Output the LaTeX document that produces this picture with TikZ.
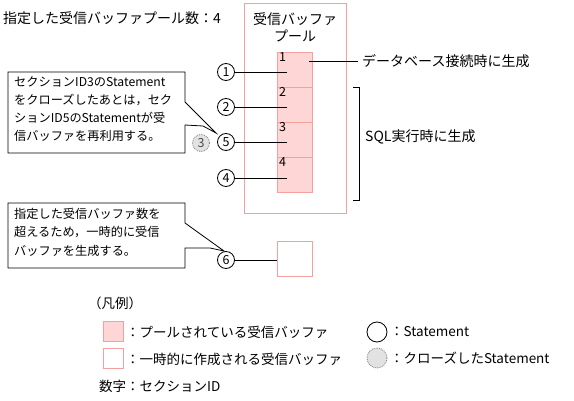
\documentclass[tikz,border=0pt]{standalone}
\usepackage{fontspec}
\newfontfamily\jp{Noto Sans CJK JP}
\definecolor{pinkline}{HTML}{F4A0A0}
\definecolor{pinkfill}{HTML}{FFD6D6}
\definecolor{greyfill}{HTML}{E2E2E2}
\newcommand{\lblfont}{\jp\fontsize{14}{17}\selectfont}
\newcommand{\legfont}{\jp\fontsize{13.5}{17}\selectfont}
\newcommand{\callfont}{\jp\fontsize{12.2}{18.3}\selectfont}
\newcommand{\numfont}{\jp\fontsize{12.5}{12}\selectfont}
\tikzset{
  poolbox/.style={draw=pinkline, line width=1pt, minimum width=102, minimum height=210, inner sep=0, anchor=north west},
  cellbox/.style={draw=pinkline, fill=pinkfill, line width=1pt, minimum width=35, minimum height=35, inner sep=0, anchor=north west},
  tempbox/.style={draw=pinkline, fill=white, line width=1pt, minimum width=35, minimum height=35, inner sep=0, anchor=north west},
  legbox/.style={draw=pinkline, line width=1pt, minimum width=20, minimum height=20, inner sep=0},
  stmt/.style={circle, draw, line width=0.8pt, minimum size=17, inner sep=0, font=\numfont},
  closed/.style={stmt, draw=gray, densely dotted, fill=greyfill, text=black!70},
  lbl/.style={anchor=west, inner sep=0, font=\lblfont},
  leg/.style={anchor=west, inner sep=0, font=\legfont},
  cellnum/.style={anchor=north west, inner sep=0, font=\numfont},
  calltext/.style={anchor=north west, inner sep=0, align=left, font=\callfont},
  callout/.style={draw, fill=white, line width=0.8pt},
  conn/.style={draw, line width=0.8pt},
}
\begin{document}
\begin{tikzpicture}[x=1pt,y=-1pt]
\useasboundingbox (0,0) rectangle (574,401);

% title
\node[lbl] (title) at (3,18) {指定した受信バッファプール数：4};

% pool
\node[poolbox] (pool) at (244,3) {};
\node[align=center, inner sep=0, font=\lblfont] (poollabel) at (295,27) {受信バッファ\\プール};

\node[cellbox] (c1) at (277,52) {};
\node[cellbox] (c2) at (277,87) {};
\node[cellbox] (c3) at (277,122) {};
\node[cellbox] (c4) at (277,157) {};
\node[cellnum] (n1) at (279,52) {1};
\node[cellnum] (n2) at (279,87) {2};
\node[cellnum] (n3) at (279,122) {3};
\node[cellnum] (n4) at (279,157) {4};

% statements
\node[stmt] (s1) at (226,72) {1};
\node[stmt] (s2) at (226,107) {2};
\node[stmt] (s5) at (226,142) {5};
\node[stmt] (s4) at (226,178) {4};
\node[closed] (s3) at (201,143) {3};
\node[stmt] (s6) at (226,260) {6};

\coordinate (e1) at (287,72);
\coordinate (e2) at (287,107);
\coordinate (e5) at (287,142);
\coordinate (e4) at (287,178);
\coordinate (e6) at (287,260);
\draw[conn] (s1.east) -- (e1);
\draw[conn] (s2.east) -- (e2);
\draw[conn] (s5.east) -- (e5);
\draw[conn] (s4.east) -- (e4);
\draw[conn] (s6.east) -- (e6);

% temp buffer
\node[tempbox] (t1) at (277,241) {};

% db label
\coordinate (d1) at (309,61);
\node[lbl] (dblabel) at (362,61) {データベース接続時に生成};
\draw[conn] (d1) -- ([xshift=-4pt]dblabel.west);

% bracket
\coordinate (b1) at (353,87);
\coordinate (b2) at (359,87);
\coordinate (b3) at (359,200);
\coordinate (b4) at (353,200);
\draw[conn] (b1) -- (b2) -- (b3) -- (b4);
\node[lbl] (sqllabel) at (365,137) {SQL実行時に生成};

% callout 1
\coordinate (tip1) at (216,133);
\draw[callout] (8,72) -- (185,72) -- (185,102) -- (tip1) -- (203,126) -- (185,125) -- (185,153) -- (8,153) -- cycle;
\node[calltext] (ct1) at (14,76) {セクションID3のStatement\\をクローズしたあとは，セク\\ションID5のStatementが受\\信バッファを再利用する。};

% callout 2
\coordinate (tip2) at (224,251);
\draw[callout] (8,203) -- (185,203) -- (185,223) -- (tip2) -- (210,248) -- (185,248) -- (185,268) -- (8,268) -- cycle;
\node[calltext] (ct2) at (14,208) {指定した受信バッファ数を\\超えるため，一時的に受信\\バッファを生成する。};

% legend
\node[leg] (legtitle) at (88,303) {（凡例）};
\node[legbox, fill=pinkfill] (lp) at (113,332) {};
\node[leg] (lpt) at (126,332) {：プールされている受信バッファ};
\node[legbox, fill=white] (lw) at (113,359) {};
\node[leg] (lwt) at (126,359) {：一時的に作成される受信バッファ};
\node[stmt, minimum size=20] (ls) at (377,332) {};
\node[leg] (lst) at (390,332) {：Statement};
\node[closed, minimum size=20] (lc) at (377,358) {};
\node[leg] (lct) at (390,358) {：クローズしたStatement};
\node[leg] (lnum) at (99,386) {数字：セクションID};
\end{tikzpicture}
\end{document}
